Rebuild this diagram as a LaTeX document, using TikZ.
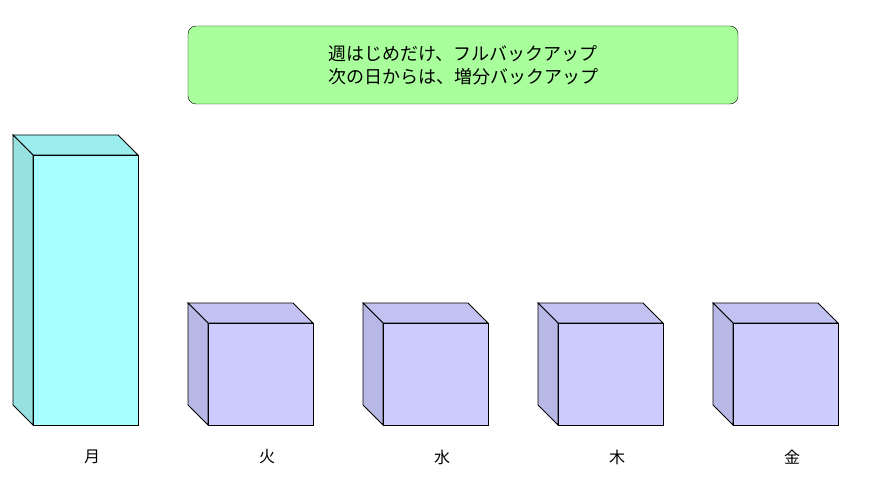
\documentclass[tikz,border=0pt]{standalone}
\usepackage{fontspec}
\newfontfamily\jpfont{Noto Sans CJK JP}
\usetikzlibrary{positioning}
\definecolor{notegreen}{HTML}{A9FF9B}
\definecolor{fullfront}{HTML}{A8FFFF}
\definecolor{fulltop}{HTML}{9CEEEE}
\definecolor{fullside}{HTML}{99E0E0}
\definecolor{incfront}{HTML}{CCCCFF}
\definecolor{inctop}{HTML}{C2C2F2}
\definecolor{incside}{HTML}{B8B8E6}
\begin{document}
\begin{tikzpicture}[
  x=1pt, y=-1pt,
  every node/.style={font=\jpfont},
  note/.style={rectangle, rounded corners=8pt, draw=black, fill=notegreen, minimum width=550pt, minimum height=78pt, align=center, font=\jpfont\fontsize{18}{23}\selectfont},
  face/.style={draw=black, line width=0.9pt, line join=miter},
  day/.style={font=\jpfont\fontsize{16}{18}\selectfont}
]
\useasboundingbox (0,0) rectangle (875,497);

\node[note] (plan) at (463,65) {週はじめだけ、フルバックアップ\\次の日からは、増分バックアップ};

% full backup (Monday)
\fill[fulltop, face] (13,135) -- (118,135) -- (138,155) -- (33,155) -- cycle;
\fill[fullside, face] (13,135) -- (33,155) -- (33,425) -- (13,405) -- cycle;
\fill[fullfront, face] (33,155) rectangle (138,425);
\node[day] (mon) at (92,457) {月};

% incremental backups
\foreach \x/\name/\lbl in {188/tue/火, 363/wed/水, 538/thu/木, 713/fri/金} {
  \fill[inctop, face] (\x,303) -- (\x+105,303) -- (\x+125,323) -- (\x+20,323) -- cycle;
  \fill[incside, face] (\x,303) -- (\x+20,323) -- (\x+20,425) -- (\x,405) -- cycle;
  \fill[incfront, face] (\x+20,323) rectangle (\x+125,425);
  \node[day] (\name) at (\x+79,457) {\lbl};
}

\end{tikzpicture}
\end{document}
